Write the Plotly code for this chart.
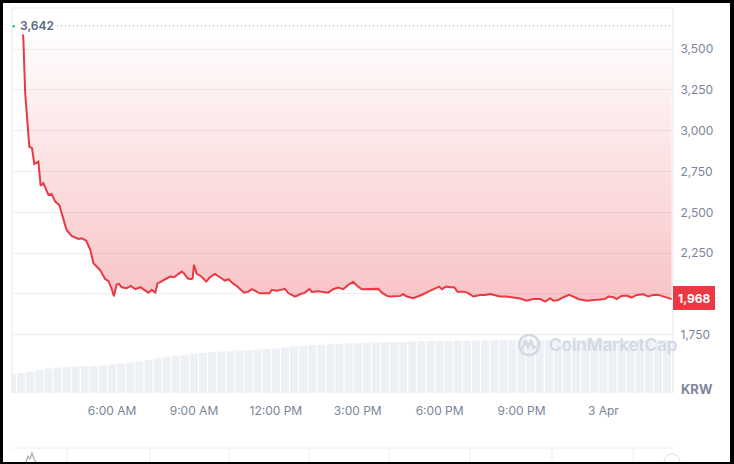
import plotly.graph_objects as go
from datetime import datetime, timedelta

# ---------------- data ----------------
price_times = [
    "02:43", "02:45", "02:49", "02:58", "03:04", "03:09", "03:18", "03:23", "03:29", "03:40",
    "03:47", "03:55", "04:04", "04:13", "04:20", "04:31", "04:46", "04:53", "05:03", "05:12",
    "05:19", "05:30", "05:34", "05:45", "05:52", "05:59", "06:04", "06:10", "06:15", "06:21",
    "06:32", "06:41", "06:51", "07:02", "07:13", "07:20", "07:27", "07:35", "07:40", "07:46",
    "07:57", "08:08", "08:16", "08:26", "08:33", "08:38", "08:46", "08:53", "08:57", "09:00",
    "09:06", "09:15", "09:27", "09:35", "09:46", "09:57", "10:08", "10:16", "10:25", "10:34",
    "10:41", "10:50", "11:00", "11:07", "11:14", "11:24", "11:36", "11:46", "11:51", "12:02",
    "12:11", "12:20", "12:28", "12:42", "12:53", "13:04", "13:14", "13:19", "13:33", "13:44",
    "13:55", "14:06", "14:17", "14:28", "14:39", "14:50", "14:59", "15:09", "15:23", "15:38",
    "15:45", "15:53", "16:04", "16:11", "16:26", "16:34", "16:40", "16:48", "17:02", "17:13",
    "17:24", "17:35", "17:46", "17:52", "17:59", "18:05", "18:14", "18:23", "18:32", "18:39",
    "18:52", "19:01", "19:14", "19:29", "19:40", "19:51", "20:02", "20:13", "20:27", "20:42",
    "20:57", "21:11", "21:26", "21:41", "21:52", "22:03", "22:10", "22:21", "22:32", "22:45",
    "22:54", "23:05", "23:23", "23:45", "00:03", "00:11", "00:22", "00:29", "00:40", "00:51",
    "01:02", "01:13", "01:28", "01:39", "01:50", "02:01", "02:12", "02:23", "02:30",
]
price_values = [
    3642, 3560, 3231, 2903, 2893, 2797, 2811, 2662, 2678, 2607,
    2613, 2566, 2545, 2464, 2392, 2355, 2337, 2341, 2327, 2270,
    2188, 2157, 2145, 2090, 2080, 2032, 1986, 2057, 2062, 2041,
    2035, 2049, 2029, 2041, 2020, 2008, 2025, 2008, 2066, 2072,
    2090, 2106, 2102, 2123, 2137, 2127, 2096, 2090, 2094, 2178,
    2123, 2110, 2076, 2102, 2123, 2102, 2082, 2090, 2066, 2049,
    2029, 2008, 2014, 2029, 2020, 2004, 2004, 2004, 2025, 2020,
    2025, 2031, 2004, 1984, 1998, 2008, 2031, 2012, 2016, 2014,
    2008, 2029, 2039, 2029, 2055, 2074, 2049, 2029, 2031, 2031,
    2031, 2008, 1988, 1984, 1984, 1988, 1998, 1984, 1974, 1984,
    1998, 2014, 2029, 2035, 2045, 2029, 2045, 2041, 2041, 2014,
    2014, 2008, 1984, 1994, 1994, 2000, 1990, 1984, 1984, 1980,
    1972, 1959, 1969, 1969, 1953, 1974, 1959, 1963, 1980, 1994,
    1984, 1969, 1959, 1963, 1969, 1984, 1980, 1968, 1988, 1990,
    1978, 1994, 1998, 1984, 1994, 1994, 1984, 1974, 1968,
]
start_date = "2024-04-02"

volume_start = "2024-04-02 02:20"
volume_step_minutes = 20
volume_values = [
    4.80, 5.19, 5.58, 5.97, 6.36, 6.57, 6.75, 6.88, 7.01, 7.01, 7.14,
    7.40, 7.66, 7.92, 8.18, 8.57, 8.96, 9.35, 9.61, 9.87, 10.26,
    10.44, 10.65, 10.78, 10.91, 11.04, 11.17, 11.30, 11.43, 11.56, 11.82,
    12.08, 12.21, 12.41, 12.54, 12.67, 12.80, 12.91, 12.99, 13.04, 13.11,
    13.19, 13.24, 13.32, 13.37, 13.43, 13.45, 13.50, 13.50, 13.56, 13.58,
    13.63, 13.66, 13.69, 13.71, 13.74, 13.76, 13.76, 13.76, 13.76, 13.76,
    13.76, 13.76, 13.76, 13.76, 13.76, 13.76, 13.76, 13.76, 13.76, 13.76,
    13.76, 13.78, 13.78,
]

x_tick_times = ["2024-04-02 06:00", "2024-04-02 09:00", "2024-04-02 12:00", "2024-04-02 15:00",
                "2024-04-02 18:00", "2024-04-02 21:00", "2024-04-03 00:00"]
x_tick_labels = ["6:00 AM", "9:00 AM", "12:00 PM", "3:00 PM", "6:00 PM", "9:00 PM", "3 Apr"]
x_range = ["2024-04-02 02:20", "2024-04-03 02:33"]

y_tick_values = [1750, 2000, 2250, 2500, 2750, 3000, 3250, 3500]
y_tick_labels = ["1,750", "", "2,250", "2,500", "2,750", "3,000", "3,250", "3,500"]
y_range = [1393, 3752]

high_value = 3642
high_label = "3,642"
last_label = "1,968"
currency_label = "KRW"

# ---------------- build ----------------
day0 = datetime.strptime(start_date, "%Y-%m-%d")
px_times = []
day = 0
prev = None
for t in price_times:
    hh, mm = map(int, t.split(":"))
    cur = hh * 60 + mm
    if prev is not None and cur < prev:
        day += 1
    prev = cur
    px_times.append(day0 + timedelta(days=day, hours=hh, minutes=mm))

v0 = datetime.strptime(volume_start, "%Y-%m-%d %H:%M")
vol_times = [v0 + timedelta(minutes=volume_step_minutes * i) for i in range(len(volume_values))]

RED = "#EA3943"
GRID = "#eceef1"
TXT = "#7a8599"

W, H = 734, 464
L, R, T, B = 12, 61, 8, 71
PW, PH = W - L - R, H - T - B


def pxx(X):
    return (X - L) / PW


def pyy(Y):
    return (H - B - Y) / PH


fig = go.Figure()

fig.add_trace(go.Bar(
    x=vol_times, y=volume_values, yaxis="y2",
    marker=dict(color="#edf0f4", line=dict(width=0)),
    hoverinfo="skip", showlegend=False,
))

fig.add_trace(go.Scatter(
    x=px_times, y=[high_value] * len(px_times), mode="lines",
    line=dict(width=0, color="rgba(0,0,0,0)"), hoverinfo="skip", showlegend=False,
))
fig.add_trace(go.Scatter(
    x=px_times, y=price_values, mode="lines",
    line=dict(color=RED, width=2),
    fill="tonexty",
    fillgradient=dict(type="vertical",
                      colorscale=[[0, "rgba(234,57,67,0.30)"], [1, "rgba(234,57,67,0.0)"]],
                      start=min(price_values), stop=high_value),
    hoverinfo="skip", showlegend=False,
))

fig.update_layout(
    width=W, height=H,
    margin=dict(l=L, r=R, t=T, b=B, pad=0),
    paper_bgcolor="white", plot_bgcolor="white",
    font=dict(family="Inter, Roboto, sans-serif", size=12, color=TXT),
    bargap=0.12,
    showlegend=False,
    xaxis=dict(
        type="date", range=x_range, showgrid=False, zeroline=False, showline=False,
        tickvals=x_tick_times, ticktext=x_tick_labels,
        ticks="outside", ticklen=7, tickcolor="rgba(0,0,0,0)",
        tickfont=dict(size=12, color=TXT),
    ),
    yaxis=dict(
        range=y_range, side="right", showgrid=True, gridcolor=GRID, gridwidth=1,
        zeroline=False, showline=False,
        tickvals=y_tick_values, ticktext=y_tick_labels,
        ticks="outside", ticklen=4, tickcolor="rgba(0,0,0,0)",
        tickfont=dict(size=12, color=TXT),
    ),
    yaxis2=dict(range=[0, 100], overlaying="y", visible=False),
)

shapes = []
BORDER = "#e6e8ec"
# plot borders (top, left, right)
shapes.append(dict(type="line", xref="paper", yref="paper", x0=0, x1=1, y0=1, y1=1,
                   line=dict(color=BORDER, width=1)))
shapes.append(dict(type="line", xref="paper", yref="paper", x0=0, x1=0, y0=0, y1=1,
                   line=dict(color=BORDER, width=1)))
shapes.append(dict(type="line", xref="paper", yref="paper", x0=1, x1=1, y0=0, y1=1,
                   line=dict(color=BORDER, width=1)))
# dotted high line
shapes.append(dict(type="line", xref="paper", yref="y", x0=pxx(57), x1=pxx(670),
                   y0=high_value, y1=high_value,
                   line=dict(color="#8a93a3", width=1, dash="1px,3px")))
# green dot
shapes.append(dict(type="circle", xref="paper", yref="paper",
                   x0=pxx(12.5), x1=pxx(15), y0=pyy(25), y1=pyy(27.5),
                   fillcolor="#16c784", line=dict(width=0)))
# last price badge
shapes.append(dict(type="rect", xref="paper", yref="paper",
                   x0=pxx(673), x1=pxx(715), y0=pyy(310), y1=pyy(286),
                   fillcolor=RED, line=dict(width=0)))
# watermark logo
WM = "#d3d9e5"
shapes.append(dict(type="circle", xref="paper", yref="paper",
                   x0=pxx(519), x1=pxx(539), y0=pyy(355), y1=pyy(335),
                   line=dict(color=WM, width=2.5)))
path = "M {},{} L {},{} L {},{} L {},{} L {},{} L {},{}".format(
    pxx(522), pyy(349), pxx(525.5), pyy(341), pxx(528), pyy(347),
    pxx(531), pyy(341), pxx(533.5), pyy(348), pxx(537), pyy(346))
shapes.append(dict(type="path", xref="paper", yref="paper", path=path,
                   line=dict(color=WM, width=2.5)))
# navigator strip
NAV = "#eceef2"
shapes.append(dict(type="line", xref="paper", yref="paper", x0=0, x1=pxx(673),
                   y0=pyy(448), y1=pyy(448), line=dict(color=NAV, width=1)))
for X in [67, 150, 229, 309, 389, 470, 552, 633]:
    shapes.append(dict(type="line", xref="paper", yref="paper", x0=pxx(X), x1=pxx(X),
                       y0=pyy(448), y1=pyy(464), line=dict(color=NAV, width=1)))
mini = "M {},{} L {},{} L {},{} L {},{} L {},{} L {},{}".format(
    pxx(26), pyy(462), pxx(28), pyy(456), pxx(30), pyy(459), pxx(32), pyy(453),
    pxx(34), pyy(459), pxx(36), pyy(462))
shapes.append(dict(type="path", xref="paper", yref="paper", path=mini,
                   line=dict(color="#a3abb8", width=1.2)))
shapes.append(dict(type="circle", xref="paper", yref="paper",
                   x0=pxx(664), x1=pxx(680), y0=pyy(470), y1=pyy(454),
                   fillcolor="white", line=dict(color="#dfe3ea", width=1)))
# black frame of the screenshot
for (x0, x1, y0, y1) in [(0, 3, 0, 464), (730, 734, 0, 464), (0, 734, 0, 3), (0, 734, 462, 464)]:
    shapes.append(dict(type="rect", xref="paper", yref="paper",
                       x0=pxx(x0), x1=pxx(x1), y0=pyy(y1), y1=pyy(y0),
                       fillcolor="black", line=dict(width=0), layer="above"))
fig.update_layout(shapes=shapes)

annotations = [
    dict(text=high_label, xref="paper", yref="y", x=pxx(18), y=high_value,
         xanchor="left", yanchor="middle", showarrow=False, bgcolor="white",
         font=dict(size=12, color="#58667e", weight=600), borderpad=1),
    dict(text=last_label, xref="paper", yref="paper", x=pxx(694), y=pyy(298),
         xanchor="center", yanchor="middle", showarrow=False,
         font=dict(size=12, color="white", weight=700)),
    dict(text=currency_label, xref="paper", yref="paper", x=pxx(697), y=pyy(389),
         xanchor="center", yanchor="middle", showarrow=False,
         font=dict(size=13, color="#7d889c", weight=700)),
    dict(text="CoinMarketCap", xref="paper", yref="paper", x=pxx(547), y=pyy(345),
         xanchor="left", yanchor="middle", showarrow=False,
         font=dict(size=17, color=WM, weight=600)),
]
fig.update_layout(annotations=annotations)

fig.write_html("out.html",
               config={"displayModeBar": False, "staticPlot": True},
               post_script="document.body.style.margin='0';document.body.style.overflow='hidden';")
